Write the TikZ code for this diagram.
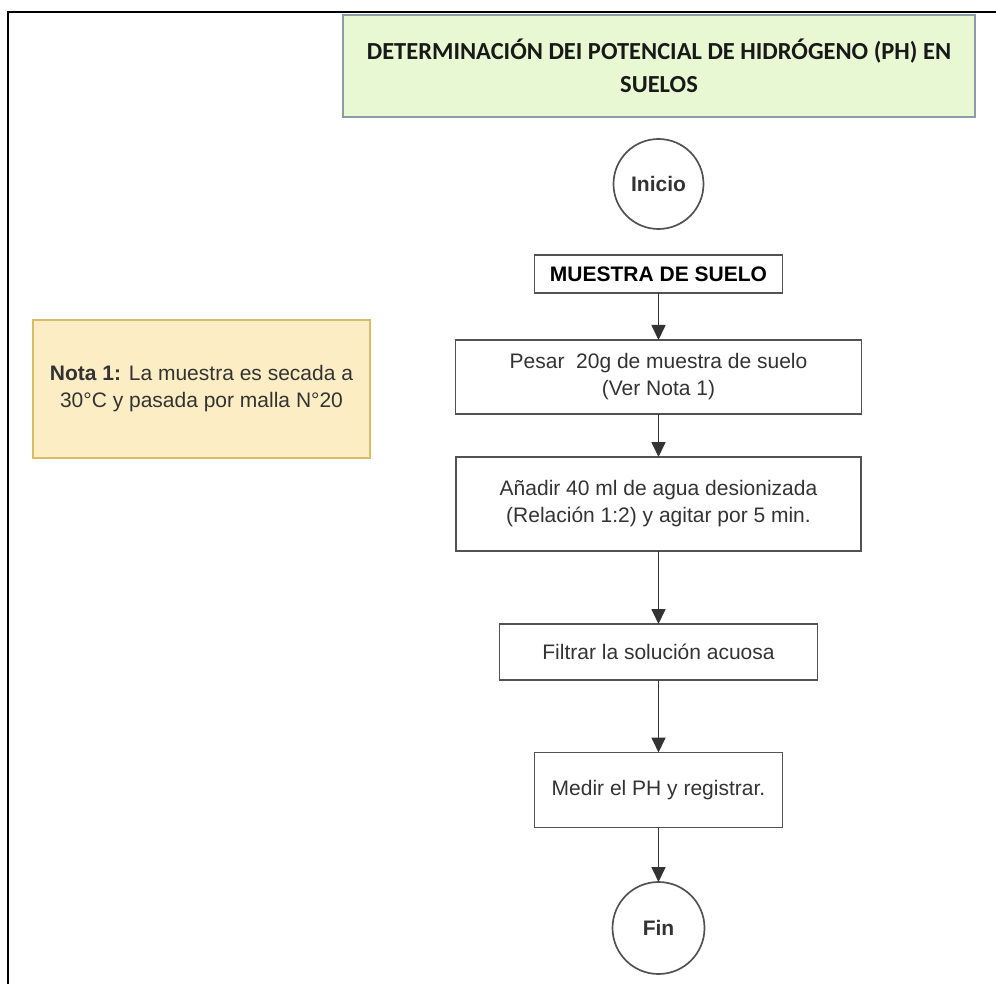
\documentclass[tikz,border=0pt]{standalone}
\usepackage{fontspec}
\setmainfont{Liberation Sans}
\newfontfamily\titlefont{Carlito}
\usetikzlibrary{arrows.meta}
\definecolor{titlefill}{HTML}{E8F8D2}
\definecolor{titleedge}{HTML}{8C9BA8}
\definecolor{notefill}{HTML}{FCEDC4}
\definecolor{noteedge}{HTML}{D8BC66}
\definecolor{ink}{HTML}{333333}
\begin{document}
\begin{tikzpicture}[x=1pt,y=-1pt,
  every node/.style={inner sep=0pt,outer sep=0pt,align=center,text=ink},
  body/.style={font=\fontsize{21}{27}\selectfont},
  procbox/.style={body,draw=ink!85,line width=1.7pt,rectangle},
  term/.style={draw=ink!85,line width=1.7pt,circle,minimum size=90pt,font=\fontsize{21}{27}\selectfont\bfseries},
  flow/.style={draw=ink,line width=1.7pt,-{Triangle[width=14pt,length=15pt]}}]
\useasboundingbox (0,0) rectangle (996,984);
% page frame (top and left rules)
\draw[line width=2.5pt,black] (996,12) -- (8,12) -- (8,984);
% title banner
\node[draw=titleedge,line width=1.6pt,fill=titlefill,minimum width=632pt,minimum height=102pt,
  font=\titlefont\bfseries\fontsize{24.5}{33}\selectfont,text=black!90] (title) at (659,66)
  {DETERMINACIÓN DEI POTENCIAL DE HIDRÓGENO (PH) EN\\SUELOS};
% side note
\node[draw=noteedge,line width=1.6pt,fill=notefill,minimum width=337pt,minimum height=138pt,body] (note) at (201.5,389)
  {\textbf{Nota 1:} La muestra es secada a\\30°C y pasada por malla N°20};
% flow steps, all centred on one vertical axis
\node[term] (start) at (658.5,184) {Inicio};
\node[procbox,minimum width=248pt,minimum height=38pt,font=\fontsize{21}{27}\selectfont\bfseries,text=black] (sample) at (658.5,274) {MUESTRA DE SUELO};
\node[procbox,minimum width=406pt,minimum height=74pt] (weigh) at (658.5,377) {Pesar\ \ 20g de muestra de suelo\\(Ver Nota 1)};
\node[procbox,minimum width=405pt,minimum height=94pt] (water) at (658.5,504) {Añadir 40 ml de agua desionizada\\(Relación 1:2) y agitar por 5 min.};
\node[procbox,minimum width=318pt,minimum height=56pt] (filter) at (658.5,652) {Filtrar la solución acuosa};
\node[procbox,minimum width=248pt,minimum height=75pt] (measure) at (658.5,790) {Medir el PH y registrar.};
\node[term,minimum size=92pt] (end) at (658.5,928) {Fin};
% connectors
\draw[flow] (sample) -- (weigh);
\draw[flow] (weigh) -- (water);
\draw[flow] (water) -- (filter);
\draw[flow] (filter) -- (measure);
\draw[flow] (measure) -- (end);
\end{tikzpicture}
\end{document}
